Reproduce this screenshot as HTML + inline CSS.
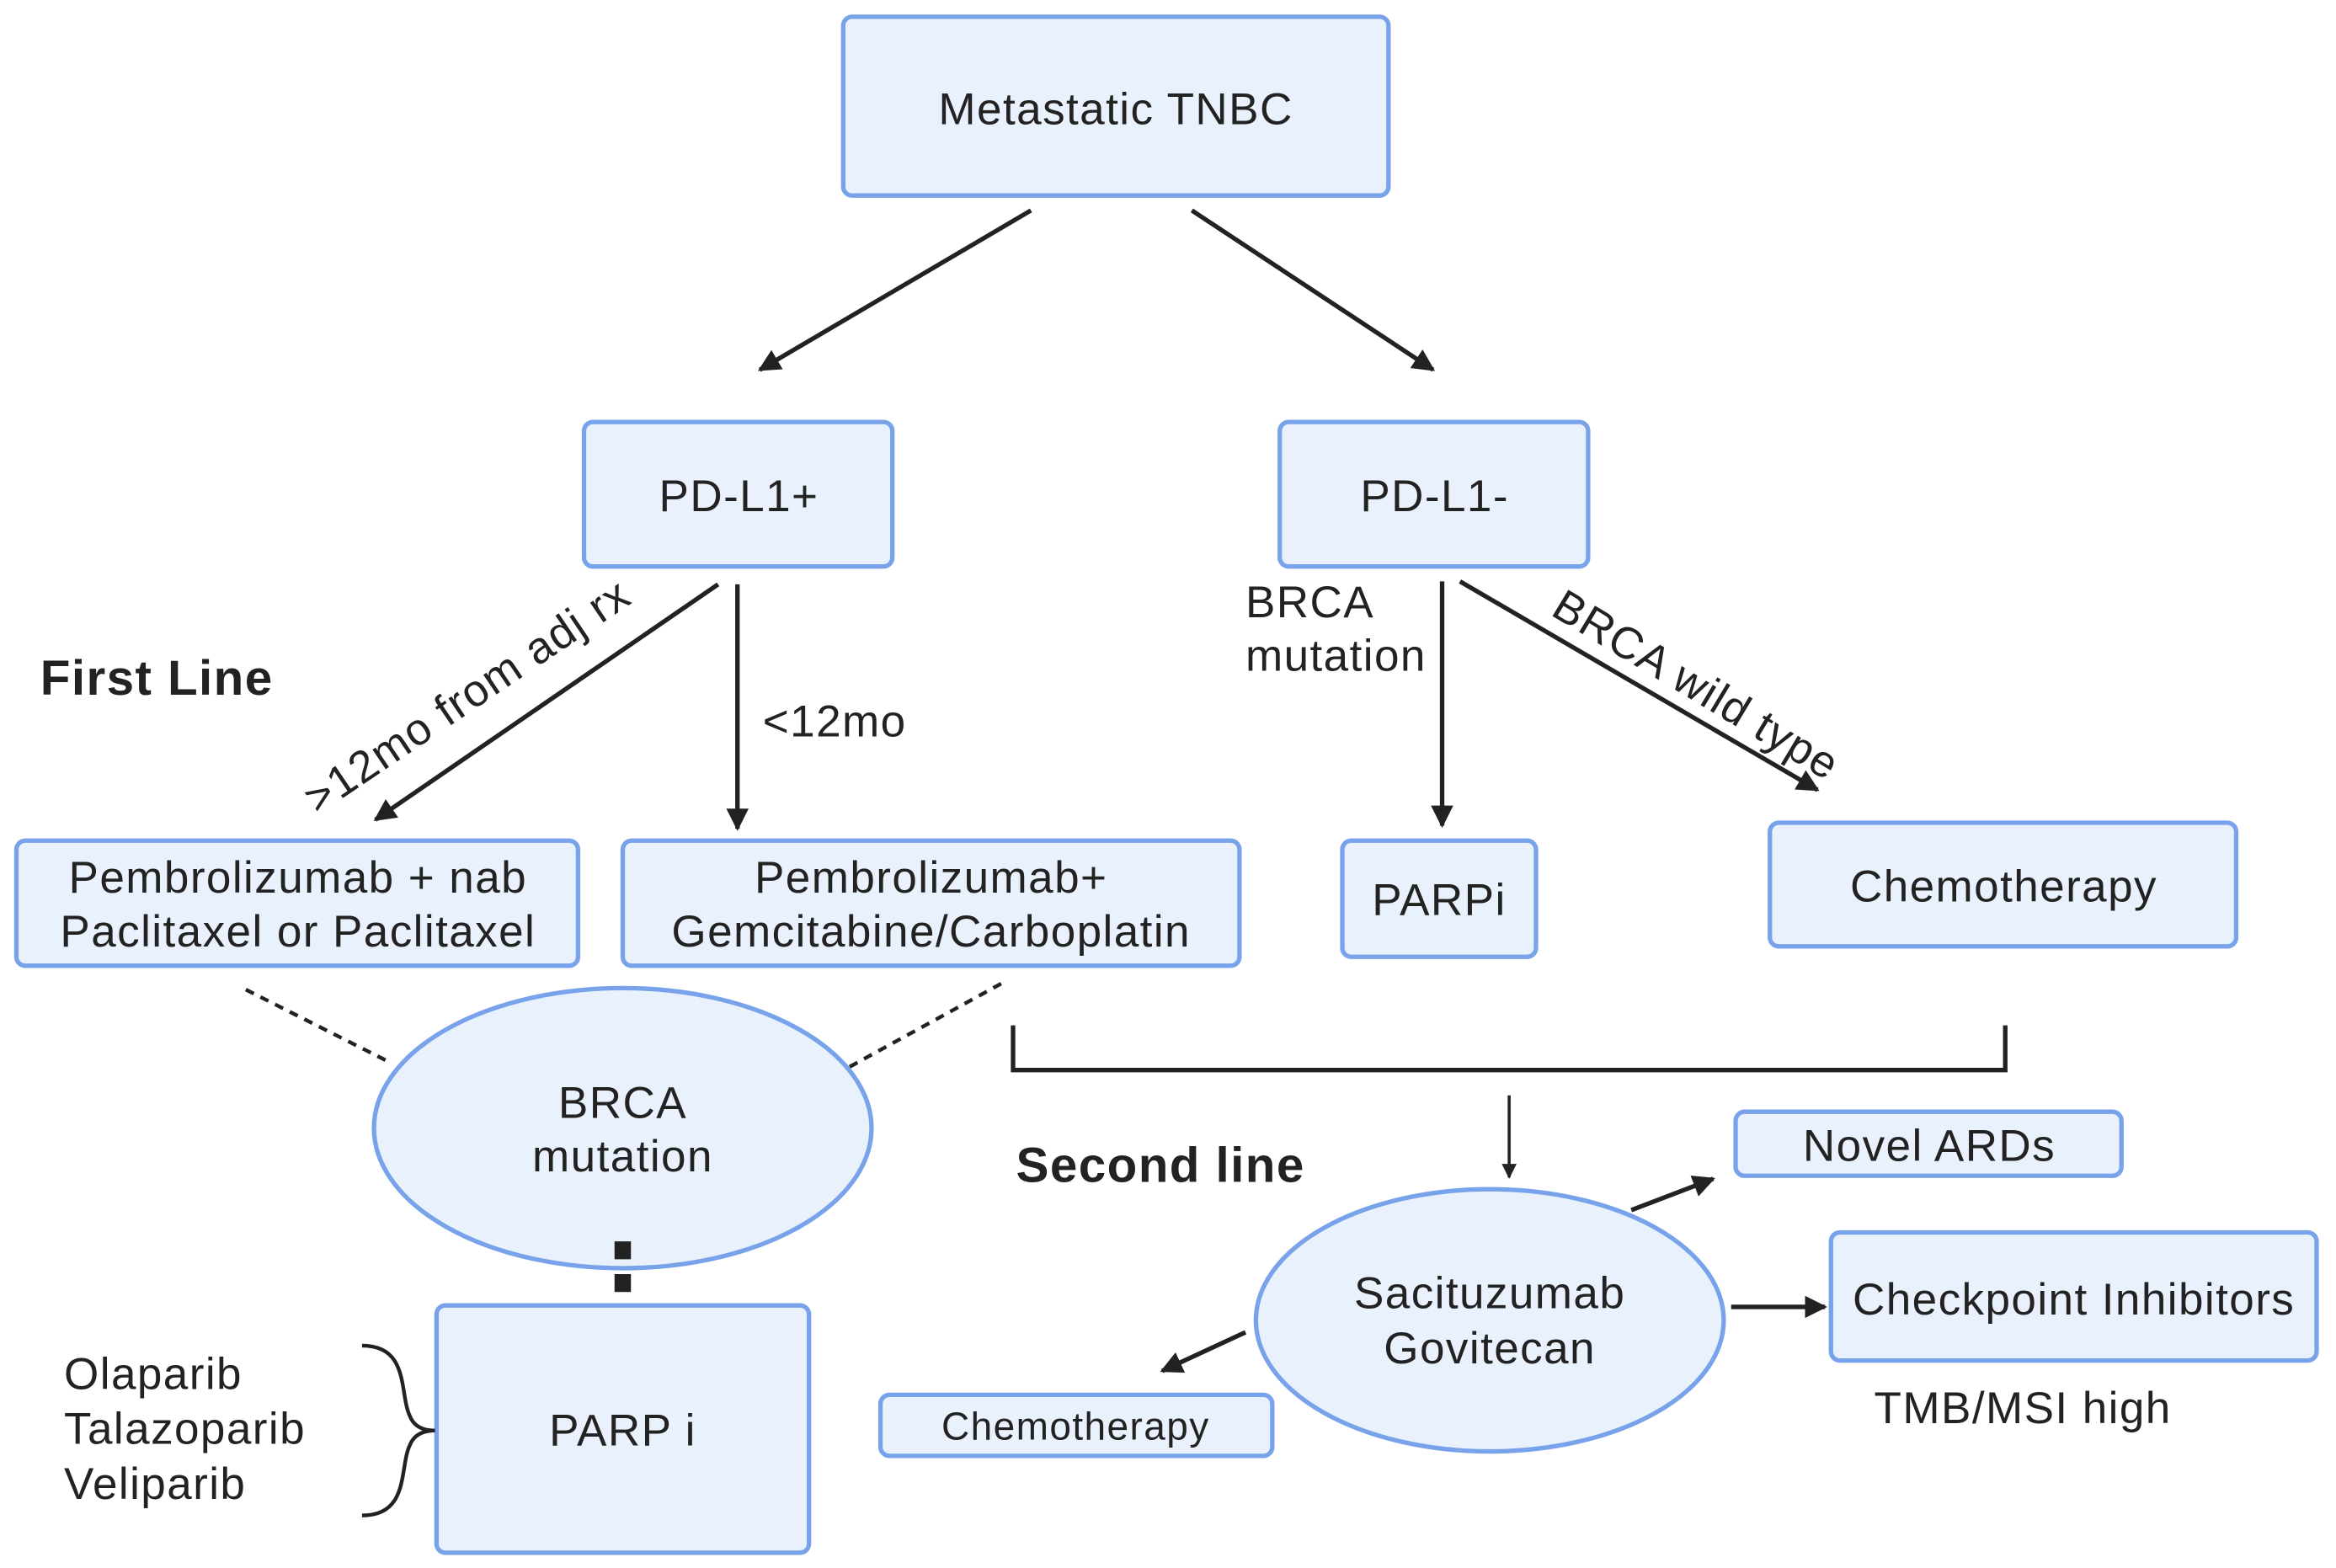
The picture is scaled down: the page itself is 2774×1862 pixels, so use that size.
<!DOCTYPE html>
<html><head><style>
html,body{margin:0;padding:0;background:#fff;}
svg{display:block;}
text{font-family:"Liberation Sans",sans-serif;fill:#222;letter-spacing:0.8px;}
</style></head><body>
<svg width="2774" height="1862" viewBox="0 0 1568 1052" xmlns="http://www.w3.org/2000/svg">
<defs>
<marker id="a" viewBox="0 0 10 10" refX="9" refY="5" markerWidth="5" markerHeight="5" orient="auto"><path d="M0,0 L10,5 L0,10 z" fill="#222"/></marker>
</defs>
<g fill="#e9f1fc" stroke="#78a3ea" stroke-width="3">
<rect x="566" y="11" width="366" height="120" rx="6"/>
<rect x="392" y="283" width="207" height="97" rx="6"/>
<rect x="859" y="283" width="207" height="97" rx="6"/>
<rect x="11" y="564" width="377" height="84" rx="6"/>
<rect x="418" y="564" width="414" height="84" rx="6"/>
<rect x="901" y="564" width="130" height="78" rx="6"/>
<rect x="1188" y="552" width="313" height="83" rx="6"/>
<ellipse cx="418" cy="757" rx="167" ry="94"/>
<rect x="293" y="876" width="250" height="166" rx="6"/>
<rect x="1165" y="746" width="259" height="43" rx="6"/>
<ellipse cx="1000" cy="886" rx="157" ry="88"/>
<rect x="1229" y="827" width="326" height="86" rx="6"/>
<rect x="591" y="936" width="263" height="41" rx="6"/>
</g>
<g stroke="#222" stroke-width="3" fill="none">
<line x1="692" y1="141" x2="510" y2="248" marker-end="url(#a)"/>
<line x1="800" y1="141" x2="962" y2="248" marker-end="url(#a)"/>
<line x1="482" y1="392" x2="252" y2="550" marker-end="url(#a)"/>
<line x1="495" y1="392" x2="495" y2="556" marker-end="url(#a)"/>
<line x1="968" y1="390" x2="968" y2="554" marker-end="url(#a)"/>
<line x1="980" y1="390" x2="1220" y2="530" marker-end="url(#a)"/>
<polyline points="680,688 680,718 1346,718 1346,688"/>
<line x1="1013" y1="735" x2="1013" y2="790" stroke-width="2" marker-end="url(#a)"/>
<line x1="1095" y1="812" x2="1150" y2="791" marker-end="url(#a)"/>
<line x1="1162" y1="877" x2="1225" y2="877" marker-end="url(#a)"/>
<line x1="836" y1="894" x2="780" y2="920" marker-end="url(#a)"/>
<line x1="165" y1="664" x2="262" y2="713" stroke-dasharray="6,5" stroke-width="2.5"/>
<line x1="672" y1="660" x2="570" y2="716" stroke-dasharray="6,5" stroke-width="2.5"/>
<line x1="418" y1="833" x2="418" y2="874" stroke-dasharray="12,10" stroke-width="11"/>
<path d="M243,903 C275,903 268,935 275,950 C278,958 285,960 292,960 C285,960 278,962 275,970 C268,985 275,1017 243,1017" stroke-width="2.5"/>
</g>
<g font-size="30" text-anchor="middle">
<text x="749" y="83">Metastatic TNBC</text>
<text x="496" y="343">PD-L1+</text>
<text x="963" y="343">PD-L1-</text>
<text x="200" y="599">Pembrolizumab + nab</text>
<text x="200" y="635">Paclitaxel or Paclitaxel</text>
<text x="625" y="599">Pembrolizumab+</text>
<text x="625" y="635">Gemcitabine/Carboplatin</text>
<text x="966" y="614">PARPi</text>
<text x="1345" y="605">Chemotherapy</text>
<text x="418" y="750">BRCA</text>
<text x="418" y="786">mutation</text>
<text x="418" y="970">PARP i</text>
<text x="1295" y="779">Novel ARDs</text>
<text x="1000" y="878">Sacituzumab</text>
<text x="1000" y="915">Govitecan</text>
<text x="1392" y="882">Checkpoint Inhibitors</text>
<text x="722" y="966" font-size="26">Chemotherapy</text>
</g>
<g font-size="30">
<text x="27" y="466" font-weight="bold" font-size="33">First Line</text>
<text x="682" y="793" font-weight="bold" font-size="33">Second line</text>
<text x="512" y="494">&lt;12mo</text>
<text x="836" y="414">BRCA</text>
<text x="836" y="450">mutation</text>
<text x="1258" y="955">TMB/MSI high</text>
<text x="43" y="932">Olaparib</text>
<text x="43" y="969">Talazoparib</text>
<text x="43" y="1006">Veliparib</text>
<text transform="translate(213,547) rotate(-34)">&gt;12mo from adj rx</text>
<text transform="translate(1040,412) rotate(31)">BRCA wild type</text>
</g>
</svg>
</body></html>
